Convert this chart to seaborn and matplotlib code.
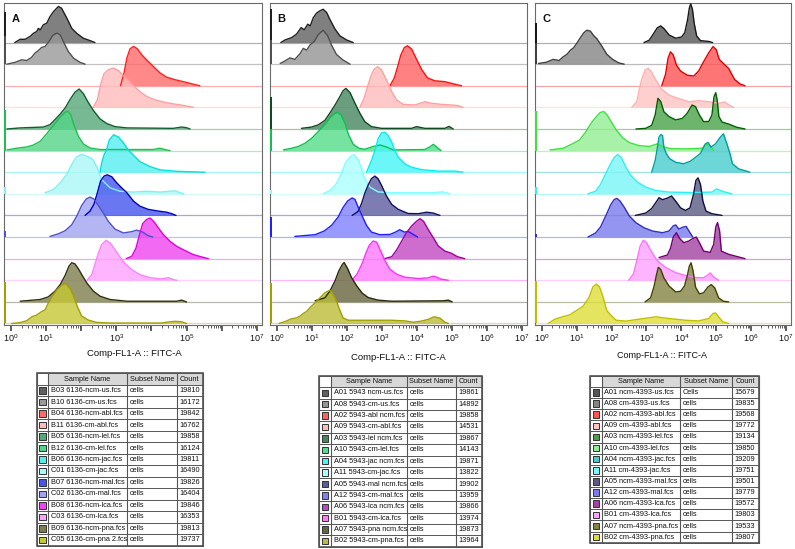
import matplotlib
matplotlib.use("Agg")
import matplotlib.pyplot as plt
import seaborn as sns
import pandas as pd
import numpy as np
from matplotlib.patches import Rectangle

# ---------------- data: each curve = (log10 FITC, height in row units) ----------------
# Panel A
A_B03 = [(0.11,0),(0.26,0.15),(0.40,0.15),(0.54,0.28),(0.64,0.43),(0.73,0.51),(0.78,0.66),(0.83,0.58),(0.92,0.82),(1.02,0.9),(1.11,1.2),(1.21,1.43),(1.35,1.67),(1.44,1.59),(1.59,1.13),(1.73,0.66),(1.87,0.43),(2.06,0.2),(2.25,0.09),(2.39,0)]
A_B10 = [(-0.12,0),(0.11,0.08),(0.30,0.2),(0.45,0.17),(0.59,0.32),(0.68,0.51),(0.78,0.63),(0.87,0.77),(0.97,0.82),(1.06,1.0),(1.19,1.33),(1.30,1.44),(1.40,1.36),(1.49,1.05),(1.63,0.59),(1.78,0.28),(1.97,0.08),(2.11,0)]
A_B04 = [(3.12,0),(3.22,0.6),(3.30,1.28),(3.39,1.71),(3.49,1.82),(3.60,1.71),(3.72,1.44),(3.86,1.2),(4.05,0.9),(4.24,0.6),(4.43,0.4),(4.67,0.28),(4.91,0.19),(5.15,0.09),(5.38,0)]
A_B11 = [(2.34,0),(2.46,0.35),(2.55,1.05),(2.65,1.56),(2.77,1.74),(2.92,1.82),(3.06,1.7),(3.20,1.47),(3.34,1.25),(3.49,1.0),(3.67,0.73),(3.86,0.51),(4.10,0.35),(4.39,0.23),(4.67,0.15),(4.96,0.08),(5.19,0)]
A_B05 = [(-0.12,0),(0.26,0.05),(0.92,0.09),(1.11,0.2),(1.25,0.43),(1.40,0.69),(1.54,0.97),(1.68,1.36),(1.82,1.7),(1.94,1.85),(2.06,1.64),(2.20,1.23),(2.35,0.85),(2.54,0.46),(2.73,0.25),(2.96,0.11),(3.30,0.05),(4.62,0.03),(4.86,0.09),(5.0,0.06),(5.10,0)]
A_B12 = [(-0.12,0.03),(0.16,0.11),(0.45,0.17),(0.64,0.26),(0.83,0.43),(0.97,0.69),(1.11,0.97),(1.25,1.25),(1.40,1.56),(1.54,1.77),(1.61,1.82),(1.70,1.67),(1.79,1.2),(1.92,0.66),(2.06,0.31),(2.25,0.12),(2.54,0.05),(4.05,0.05),(4.24,0.11),(4.43,0.03),(4.53,0)]
A_B06 = [(2.54,0),(2.58,0.42),(2.65,0.8),(2.72,1.03),(2.80,1.49),(2.92,1.73),(3.06,1.63),(3.20,1.36),(3.34,1.03),(3.49,0.78),(3.67,0.49),(3.96,0.26),(4.24,0.11),(4.72,0.04),(5.53,0)]
A_C01 = [(0.97,0.05),(1.21,0.2),(1.40,0.51),(1.59,0.9),(1.73,1.36),(1.87,1.71),(2.01,1.82),(2.17,1.74),(2.33,1.59),(2.46,1.2),(2.58,0.66),(2.82,0.28),(3.10,0.12),(3.49,0.08),(3.86,0.12),(4.24,0.08),(4.67,0.14),(4.86,0.03),(4.91,0)]
A_B07 = [(2.11,0),(2.25,0.2),(2.36,0.51),(2.46,1.05),(2.55,1.59),(2.65,1.82),(2.74,1.88),(2.87,1.79),(3.01,1.51),(3.15,1.28),(3.30,1.05),(3.49,0.66),(3.67,0.43),(3.91,0.28),(4.20,0.2),(4.43,0.15),(4.58,0.08),(4.70,0)]
A_C02 = [(1.11,0.03),(1.35,0.15),(1.54,0.29),(1.73,0.57),(1.87,0.96),(2.01,1.45),(2.14,1.76),(2.25,1.85),(2.36,1.76),(2.49,1.45),(2.63,1.11),(2.77,0.73),(2.96,0.37),(3.20,0.19),(3.44,0.25),(3.58,0.32),(3.75,0.23),(3.91,0.06),(4.04,0)]
A_B08 = [(3.28,0),(3.44,0.11),(3.56,0.49),(3.66,1.11),(3.75,1.62),(3.86,1.81),(3.96,1.88),(4.07,1.71),(4.20,1.42),(4.34,1.11),(4.53,0.8),(4.72,0.57),(4.96,0.37),(5.19,0.19),(5.43,0.08),(5.62,0)]
A_C03 = [(2.17,0),(2.30,0.26),(2.39,0.73),(2.49,1.27),(2.58,1.65),(2.71,1.85),(2.82,1.73),(2.96,1.42),(3.10,1.08),(3.25,0.77),(3.44,0.49),(3.67,0.26),(3.96,0.12),(4.29,0.06),(4.48,0.12),(4.62,0.03),(4.72,0)]
A_B09 = [(0.26,0.03),(0.83,0.11),(1.06,0.23),(1.25,0.49),(1.40,0.8),(1.54,1.22),(1.65,1.65),(1.73,1.81),(1.82,1.76),(1.92,1.53),(2.04,1.19),(2.17,0.85),(2.35,0.49),(2.54,0.26),(2.82,0.11),(3.30,0.03),(4.72,0.03),(4.86,0.08),(5.0,0)]
A_C05 = [(0.02,0),(0.26,0.04),(0.45,0.13),(0.59,0.31),(0.73,0.39),(0.87,0.55),(0.97,0.63),(1.06,0.94),(1.16,1.24),(1.30,1.55),(1.44,1.78),(1.54,1.86),(1.68,1.63),(1.79,1.24),(1.89,0.78),(2.01,0.35),(2.2,0.16),(2.44,0.05),(2.82,0.02),(4.3,0.02),(4.48,0.07),(4.67,0.1),(4.86,0.08),(5.0,0)]
A_SPIKE = [1.43, 1.28, 0, 0, 0, 1.9, 0, 0.3, 0, 0.26, 0, 0, 0, 1.93]

# Panel B
B_A01 = [(0.11,0),(0.23,0.12),(0.42,0.23),(0.56,0.39),(0.69,0.69),(0.78,0.59),(0.88,0.85),(0.95,0.77),(1.04,1.16),(1.13,1.36),(1.23,1.47),(1.32,1.54),(1.42,1.39),(1.51,1.08),(1.66,0.62),(1.80,0.31),(1.99,0.12),(2.18,0)]
B_A08 = [(0.09,0.03),(0.23,0.15),(0.37,0.29),(0.51,0.22),(0.66,0.49),(0.75,0.73),(0.85,0.65),(0.94,0.88),(1.07,1.06),(1.18,1.37),(1.32,1.57),(1.45,1.31),(1.56,0.88),(1.70,0.45),(1.89,0.19),(2.09,0)]
B_A02 = [(3.23,0),(3.35,0.34),(3.45,0.88),(3.54,1.42),(3.64,1.76),(3.73,1.85),(3.85,1.7),(3.99,1.23),(4.13,0.77),(4.30,0.37),(4.51,0.23),(4.80,0.19),(5.04,0.09),(5.28,0)]
B_A09 = [(2.37,0),(2.49,0.42),(2.59,0.96),(2.69,1.47),(2.78,1.77),(2.88,1.88),(2.99,1.73),(3.13,1.27),(3.28,0.73),(3.42,0.34),(3.61,0.14),(3.94,0.11),(4.23,0.26),(4.42,0.19),(4.70,0.14),(4.99,0.11),(5.18,0.08),(5.32,0)]
B_A03 = [(0.70,0.03),(0.99,0.09),(1.18,0.19),(1.37,0.4),(1.51,0.73),(1.66,1.11),(1.80,1.5),(1.89,1.77),(1.97,1.88),(2.09,1.68),(2.23,1.19),(2.37,0.73),(2.51,0.34),(2.70,0.11),(2.99,0.03),(3.85,0.03),(3.99,0.11),(4.23,0.03),(4.80,0.03),(4.92,0.12),(5.04,0)]
B_A10 = [(0.18,0.03),(0.42,0.11),(0.61,0.19),(0.80,0.34),(0.99,0.57),(1.18,0.88),(1.37,1.22),(1.54,1.57),(1.66,1.73),(1.73,1.77),(1.83,1.65),(1.94,1.27),(2.04,0.76),(2.18,0.29),(2.34,0.11),(2.51,0.06),(2.75,0.19),(2.94,0.26),(3.13,0.17),(3.32,0.03),(4.23,0.05),(4.37,0.17),(4.47,0.29),(4.56,0.17),(4.69,0)]
B_A04 = [(2.56,0),(2.66,0.38),(2.72,0.62),(2.80,1.0),(2.89,1.54),(2.99,1.82),(3.09,1.85),(3.18,1.69),(3.28,1.39),(3.37,1.0),(3.47,0.69),(3.66,0.38),(3.85,0.23),(4.13,0.12),(4.61,0.05),(5.09,0.05),(5.32,0)]
B_A11 = [(1.32,0),(1.51,0.15),(1.68,0.43),(1.83,0.9),(1.96,1.44),(2.09,1.71),(2.20,1.82),(2.32,1.59),(2.42,1.16),(2.51,0.69),(2.66,0.31),(2.89,0.09),(3.28,0.05),(4.42,0.05),(4.75,0.09),(4.94,0)]
B_A05 = [(2.15,0),(2.32,0.19),(2.42,0.56),(2.51,1.02),(2.61,1.42),(2.70,1.7),(2.80,1.82),(2.89,1.7),(2.99,1.39),(3.13,0.9),(3.28,0.51),(3.47,0.28),(3.75,0.09),(4.04,0.08),(4.28,0.15),(4.47,0.11),(4.66,0)]
B_A12 = [(0.51,0.03),(1.09,0.11),(1.35,0.28),(1.56,0.54),(1.75,0.93),(1.89,1.37),(2.02,1.67),(2.15,1.81),(2.23,1.74),(2.32,1.39),(2.44,0.96),(2.56,0.54),(2.70,0.23),(2.94,0.11),(3.23,0.12),(3.39,0.23),(3.51,0.34),(3.64,0.23),(3.75,0.26),(3.90,0.12),(4.02,0)]
B_A06 = [(3.07,0),(3.28,0.09),(3.42,0.4),(3.56,0.8),(3.70,1.2),(3.85,1.51),(3.99,1.73),(4.09,1.85),(4.19,1.73),(4.32,1.36),(4.47,0.97),(4.61,0.59),(4.80,0.35),(4.99,0.25),(5.16,0.09),(5.37,0)]
B_B01 = [(2.15,0),(2.30,0.32),(2.44,0.79),(2.54,1.25),(2.64,1.62),(2.75,1.82),(2.85,1.76),(2.94,1.44),(3.09,0.9),(3.23,0.51),(3.42,0.28),(3.66,0.14),(4.04,0.08),(4.32,0.11),(4.47,0.19),(4.56,0.15),(4.69,0.05),(4.90,0)]
B_A07 = [(1.09,0.05),(1.37,0.19),(1.51,0.49),(1.66,0.97),(1.77,1.44),(1.87,1.73),(1.92,1.82),(2.02,1.54),(2.13,1.13),(2.28,0.74),(2.44,0.4),(2.61,0.2),(2.89,0.08),(3.28,0.03),(4.75,0.05),(4.90,0.08),(5.01,0)]
B_B02 = [(0.06,0),(0.23,0.09),(0.42,0.22),(0.56,0.26),(0.66,0.34),(0.75,0.46),(0.85,0.56),(0.94,0.73),(1.09,0.96),(1.23,1.19),(1.37,1.42),(1.51,1.54),(1.61,1.34),(1.70,1.03),(1.77,0.73),(1.83,0.49),(1.89,0.26),(2.04,0.15),(2.51,0.15),(3.28,0.15),(3.66,0.12),(3.90,0.06),(4.13,0.11),(4.32,0.19),(4.49,0.31),(4.66,0.25),(4.80,0.06),(4.90,0)]
B_SPIKE = [1.54, 1.1, 0, 0, 1.5, 1.0, 0, 0.2, 0, 0.93, 0, 0, 0, 1.88]

# Panel C
C_A01 = [(2.93,0),(3.08,0.11),(3.20,0.4),(3.31,0.68),(3.41,0.77),(3.50,0.65),(3.65,0.35),(3.84,0.2),(4.01,0.26),(4.10,0.46),(4.18,1.05),(4.23,1.59),(4.27,1.79),(4.32,1.54),(4.37,0.9),(4.44,0.31),(4.55,0.09),(4.79,0.05),(4.90,0)]
C_A08 = [(-0.10,0.03),(0.13,0.09),(0.32,0.22),(0.49,0.17),(0.61,0.34),(0.72,0.46),(0.82,0.65),(0.91,0.76),(1.01,0.99),(1.10,1.22),(1.20,1.45),(1.29,1.57),(1.39,1.53),(1.48,1.33),(1.58,1.17),(1.72,0.83),(1.86,0.46),(2.03,0.22),(2.20,0.06),(2.36,0)]
C_A02 = [(3.44,0),(3.55,0.54),(3.62,1.27),(3.69,1.57),(3.77,1.42),(3.86,0.96),(3.98,0.68),(4.17,0.49),(4.36,0.45),(4.50,0.69),(4.64,1.11),(4.79,1.53),(4.91,1.81),(5.00,1.68),(5.09,1.22),(5.21,1.03),(5.36,0.8),(5.53,0.29),(5.69,0.08),(5.83,0)]
C_A09 = [(2.58,0),(2.72,0.26),(2.79,0.8),(2.87,1.34),(2.96,1.73),(3.05,1.81),(3.14,1.65),(3.27,1.27),(3.41,0.88),(3.65,0.57),(3.93,0.4),(4.22,0.26),(4.50,0.31),(4.79,0.26),(5.07,0.19),(5.24,0.25),(5.36,0.12),(5.50,0)]
C_A03 = [(2.70,0),(2.98,0.03),(3.15,0.17),(3.25,0.65),(3.33,1.42),(3.41,1.27),(3.50,0.8),(3.65,0.57),(3.84,0.42),(4.03,0.49),(4.17,0.73),(4.31,1.11),(4.41,1.03),(4.52,0.65),(4.64,0.34),(4.79,0.35),(4.88,0.65),(4.94,1.5),(4.99,1.68),(5.03,1.34),(5.08,0.57),(5.17,0.32),(5.36,0.23),(5.59,0.08),(5.83,0)]
C_A10 = [(0.23,0.03),(0.61,0.11),(0.87,0.31),(1.08,0.49),(1.25,0.85),(1.41,1.27),(1.56,1.57),(1.67,1.76),(1.77,1.81),(1.87,1.65),(1.99,1.33),(2.13,0.96),(2.32,0.59),(2.51,0.37),(2.79,0.23),(3.08,0.19),(3.31,0.31),(3.46,0.19),(3.69,0.09),(4.12,0.08),(4.60,0.11),(4.72,0.31),(4.83,0.22),(4.93,0)]
C_A04 = [(3.15,0),(3.25,0.54),(3.30,1.0),(3.36,1.62),(3.41,1.74),(3.46,1.7),(3.50,1.16),(3.57,0.85),(3.67,0.62),(3.84,0.46),(4.07,0.39),(4.26,0.51),(4.41,0.69),(4.55,0.87),(4.69,1.31),(4.77,1.38),(4.85,1.16),(4.98,1.31),(5.12,1.62),(5.21,1.78),(5.31,1.31),(5.40,0.85),(5.47,0.39),(5.64,0.16),(5.97,0)]
C_A11 = [(1.32,0),(1.54,0.12),(1.68,0.43),(1.82,0.9),(1.96,1.36),(2.07,1.67),(2.17,1.82),(2.28,1.67),(2.41,1.23),(2.55,0.85),(2.74,0.54),(2.98,0.31),(3.27,0.15),(3.65,0.08),(4.31,0.06),(4.88,0.08),(5.02,0.23),(5.17,0.12),(5.45,0)]
C_A05 = [(2.68,0),(2.98,0.11),(3.15,0.32),(3.27,0.6),(3.36,0.82),(3.46,0.73),(3.60,0.8),(3.72,0.9),(3.84,0.66),(3.98,0.35),(4.12,0.23),(4.25,0.35),(4.35,0.97),(4.42,1.62),(4.48,1.74),(4.55,1.44),(4.62,0.66),(4.71,0.2),(4.88,0.08),(5.17,0)]
C_A12 = [(1.32,0),(1.54,0.19),(1.68,0.46),(1.82,0.94),(1.97,1.48),(2.07,1.73),(2.15,1.79),(2.24,1.67),(2.37,1.36),(2.51,0.97),(2.70,0.66),(2.93,0.43),(3.17,0.28),(3.46,0.2),(3.65,0.28),(3.77,0.52),(3.84,0.56),(3.93,0.37),(4.05,0.46),(4.14,0.49),(4.22,0.28),(4.33,0)]
C_A06 = [(3.36,0.05),(3.60,0.17),(3.69,0.48),(3.77,1.0),(3.86,1.2),(3.95,0.94),(4.07,0.74),(4.22,0.82),(4.34,0.94),(4.43,1.0),(4.52,0.74),(4.64,0.35),(4.83,0.29),(4.93,0.66),(4.99,1.47),(5.04,1.67),(5.10,1.28),(5.15,0.35),(5.36,0.2),(5.64,0.08),(5.83,0)]
C_B01 = [(2.49,0),(2.63,0.31),(2.73,0.97),(2.82,1.59),(2.91,1.85),(3.00,1.74),(3.13,1.36),(3.31,0.9),(3.55,0.59),(3.84,0.35),(4.12,0.22),(4.41,0.12),(4.64,0.12),(4.77,0.25),(4.83,0.34),(4.93,0.15),(5.07,0)]
C_A07 = [(2.96,0),(3.12,0.19),(3.22,0.73),(3.29,1.27),(3.34,1.6),(3.41,1.5),(3.50,1.11),(3.65,0.73),(3.84,0.46),(3.98,0.49),(4.09,0.73),(4.17,1.19),(4.23,1.65),(4.28,1.81),(4.34,1.42),(4.41,0.68),(4.52,0.37),(4.64,0.42),(4.76,0.68),(4.86,0.8),(4.96,0.65),(5.07,0.19),(5.21,0.03),(5.36,0)]
C_B02 = [(0.18,0),(0.37,0.2),(0.61,0.32),(0.80,0.4),(0.99,0.6),(1.18,0.8),(1.35,1.2),(1.46,1.69),(1.56,1.82),(1.65,1.7),(1.75,1.25),(1.86,0.6),(1.98,0.38),(2.13,0.15),(2.41,0.11),(2.79,0.2),(3.27,0.31),(3.65,0.23),(4.12,0.15),(4.50,0.12),(4.79,0.23),(4.91,0.46),(4.98,0.49),(5.07,0.31),(5.19,0.08),(5.36,0)]
C_SPIKE = [0.92, 1.0, 0, 0, 0, 1.85, 0, 0.3, 0, 0.12, 0, 0, 0, 1.95]

A_ROWS = [A_B03, A_B10, A_B04, A_B11, A_B05, A_B12, A_B06, A_C01, A_B07, A_C02, A_B08, A_C03, A_B09, A_C05]
B_ROWS = [B_A01, B_A08, B_A02, B_A09, B_A03, B_A10, B_A04, B_A11, B_A05, B_A12, B_A06, B_B01, B_A07, B_B02]
C_ROWS = [C_A01, C_A08, C_A02, C_A09, C_A03, C_A10, C_A04, C_A11, C_A05, C_A12, C_A06, C_B01, C_A07, C_B02]

# table contents
A_SAMPLES = ["B03 6136-ncm-us.fcs", "B10 6136-cm-us.fcs", "B04 6136-ncm-abl.fcs", "B11 6136-cm-abl.fcs",
             "B05 6136-ncm-lel.fcs", "B12 6136-cm-lel.fcs", "B06 6136-ncm-jac.fcs", "C01 6136-cm-jac.fcs",
             "B07 6136-ncm-mal.fcs", "C02 6136-cm-mal.fcs", "B08 6136-ncm-lca.fcs", "C03 6136-cm-lca.fcs",
             "B09 6136-ncm-pna.fcs", "C05 6136-cm-pna 2.fcs"]
A_SUBSETS = ["cells"] * 14
A_COUNTS = [19810, 16172, 19842, 16762, 19858, 16124, 19811, 16490, 19826, 16404, 19846, 16353, 19813, 19737]
B_SAMPLES = ["A01 5943 ncm-us.fcs", "A08 5943-cm-us.fcs", "A02 5943-abl ncm.fcs", "A09 5943-cm-abl.fcs",
             "A03 5943-lel ncm.fcs", "A10 5943-cm-lel.fcs", "A04 5943-jac ncm.fcs", "A11 5943-cm-jac.fcs",
             "A05 5943-mal ncm.fcs", "A12 5943-cm-mal.fcs", "A06 5943-lca ncm.fcs", "B01 5943-cm-lca.fcs",
             "A07 5943-pna ncm.fcs", "B02 5943-cm-pna.fcs"]
B_SUBSETS = ["cells"] * 14
B_COUNTS = [19861, 14892, 19858, 14531, 19867, 14143, 19871, 13822, 19902, 13959, 19866, 13974, 19873, 13964]
C_SAMPLES = ["A01 ncm-4393-us.fcs", "A08 cm-4393-us.fcs", "A02 ncm-4393-abl.fcs", "A09 cm-4393-abl.fcs",
             "A03 ncm-4393-lel.fcs", "A10 cm-4393-lel.fcs", "A04 ncm-4393-jac.fcs", "A11 cm-4393-jac.fcs",
             "A05 ncm-4393-mal.fcs", "A12 cm-4393-mal.fcs", "A06 ncm-4393-lca.fcs", "B01 cm-4393-lca.fcs",
             "A07 ncm-4393-pna.fcs", "B02 cm-4393-pna.fcs"]
C_SUBSETS = ["Cells"] + ["cells"] * 13
C_COUNTS = [15679, 19835, 19568, 19772, 19134, 19850, 19209, 19751, 19501, 19779, 19572, 19803, 19533, 19807]
HEADERS = ["Sample Name", "Subset Name", "Count"]
XLABEL = "Comp-FL1-A :: FITC-A"

# ---------------- styles ----------------
A_LINE = ["#202020", "#505050", "#ff2020", "#ffa0a0", "#106030", "#20c050", "#00e0e0",
          "#80f0f0", "#0000c0", "#5050d0", "#e000e0", "#ff80ff", "#303010", "#a0a000"]
A_FILL = ["#606060", "#999999", "#ff6a6a", "#ffbcbc", "#55a878", "#55d488", "#55eeee",
          "#aaf8f8", "#4555ee", "#a0a4f0", "#ee45ee", "#ffa2ff", "#7e7e4c", "#c6c636"]
B_LINE = ["#202020", "#505050", "#ff1010", "#ffa0a0", "#104a20", "#10c050", "#00f0f0",
          "#80ffff", "#101060", "#2020ff", "#a000a0", "#ff30ff", "#282808", "#a0a000"]
B_FILL = ["#606060", "#949494", "#ff6262", "#ffbcbc", "#46865f", "#55dc88", "#46f6f6",
          "#aaffff", "#5c5ca0", "#8080ff", "#c248c2", "#ff7aff", "#66663e", "#bcbc38"]
C_LINE = ["#181818", "#404040", "#e00000", "#ffb0b0", "#006000", "#40e040", "#00a0a0",
          "#30f0f0", "#101040", "#3030c0", "#700070", "#ff70ff", "#404000", "#c0c000"]
C_FILL = ["#555555", "#858585", "#ff5252", "#ffc4c4", "#48a248", "#92ee92", "#48cccc",
          "#7af6f6", "#5a5a84", "#7a7aee", "#a242a2", "#ffa2ff", "#848442", "#dede3a"]

sns.set_theme(style="white")
plt.rcParams["font.family"] = ["Liberation Sans", "DejaVu Sans"]
plt.rcParams["mathtext.fontset"] = "custom"
plt.rcParams["mathtext.rm"] = "Liberation Sans"

W, H = 795, 549
fig = plt.figure(figsize=(W / 100, H / 100), dpi=100)
fig.patch.set_facecolor("white")

XMIN, XMAX = -0.2, 7.15
YMIN, YMAX = -0.07, 14.83
NROW = 14


def px_axes(l, t, r, b):
    return fig.add_axes([l / W, 1 - b / H, (r - l) / W, (b - t) / H])


PANELS = [
    dict(letter="A", box=(4, 3, 262, 325), rows=A_ROWS, spikes=A_SPIKE, lines=A_LINE, fills=A_FILL,
         labels=[0, 1, 3, 5, 7], xl=(134, 354), xlfs=6.8),
    dict(letter="B", box=(270, 3, 527, 325), rows=B_ROWS, spikes=B_SPIKE, lines=B_LINE, fills=B_FILL,
         labels=list(range(8)), xl=(398, 358), xlfs=6.8),
    dict(letter="C", box=(535, 3, 791, 325), rows=C_ROWS, spikes=C_SPIKE, lines=C_LINE, fills=C_FILL,
         labels=list(range(8)), xl=(662, 355), xlfs=6.5),
]

for p in PANELS:
    ax = px_axes(*p["box"])
    ax.set_facecolor("white")
    for i in range(NROW):
        base = NROW - 1 - i
        pts = p["rows"][i]
        df = pd.DataFrame({"d": [q[0] for q in pts], "y": [base + q[1] for q in pts]})
        lc, fc = p["lines"][i], p["fills"][i]
        ax.plot([XMIN, XMAX], [base, base], color=lc, alpha=0.35, lw=0.9, zorder=1)
        ax.fill_between(df["d"], base, df["y"], color=fc, alpha=0.8, lw=0, zorder=2 + i * 0.01)
        sns.lineplot(data=df, x="d", y="y", sort=False, estimator=None, color=lc, lw=1.0, ax=ax,
                     zorder=3 + i * 0.01)
        s = p["spikes"][i]
        if s > 0:
            ax.fill_between([XMIN, XMIN + 0.06], base, base + s, color=lc, lw=0, zorder=4)
    ax.set_xlim(XMIN, XMAX)
    ax.set_ylim(YMIN, YMAX)
    ax.set_ylabel("")
    ax.set_xlabel("")
    ax.set_yticks([])
    ax.set_xticks(range(8))
    ax.set_xticklabels([r"$\mathregular{10^{%d}}$" % n if n in p["labels"] else "" for n in range(8)],
                       fontsize=6.5, color="#111111")
    ax.set_xticks([n + np.log10(k) for n in range(7) for k in range(2, 10)], minor=True)
    ax.tick_params(axis="x", which="major", length=4, width=1.1, direction="out", color="#333333",
                   pad=1.5, bottom=True)
    ax.tick_params(axis="x", which="minor", length=2.2, width=0.6, direction="out", color="#444444",
                   bottom=True)
    for sp in ax.spines.values():
        sp.set_color("#6a6a6a")
        sp.set_linewidth(0.8)
        sp.set_visible(True)
    ax.text(0.03, 0.965, p["letter"], transform=ax.transAxes, fontsize=8, fontweight="bold",
            ha="left", va="top", color="#111111")
    fig.text(p["xl"][0] / W, 1 - p["xl"][1] / H, XLABEL, fontsize=p["xlfs"], ha="center", va="center",
             color="#111111")

# ---------------- tables ----------------
tab = fig.add_axes([0, 0, 1, 1])
tab.set_xlim(0, W)
tab.set_ylim(H, 0)
tab.axis("off")
tab.patch.set_alpha(0)

TABLES = [
    dict(cols=[36.7, 48.3, 126.7, 176.7, 202.7], top=373.3, bottom=545.7,
         samples=A_SAMPLES, subsets=A_SUBSETS, counts=A_COUNTS, fills=A_FILL, lines=A_LINE),
    dict(cols=[319.3, 331.0, 406.7, 456.0, 481.7], top=375.7, bottom=546.7,
         samples=B_SAMPLES, subsets=B_SUBSETS, counts=B_COUNTS, fills=B_FILL, lines=B_LINE),
    dict(cols=[590.0, 601.7, 680.0, 731.7, 759.3], top=375.7, bottom=542.7,
         samples=C_SAMPLES, subsets=C_SUBSETS, counts=C_COUNTS, fills=C_FILL, lines=C_LINE),
]
TFS = 5.3
for t in TABLES:
    cols, top, bottom = t["cols"], t["top"], t["bottom"]
    n = NROW + 1
    rh = (bottom - top) / n
    for j in range(1, 4):
        tab.add_patch(Rectangle((cols[j], top), cols[j + 1] - cols[j], rh, fc="#d8d8d8", ec="none"))
        tab.text((cols[j] + cols[j + 1]) / 2, top + rh / 2, HEADERS[j - 1], fontsize=TFS,
                 ha="center", va="center", color="#111111")
    for k in range(n + 1):
        y = top + k * rh
        tab.plot([cols[0], cols[-1]], [y, y], color="#555555", lw=0.7)
    for x in cols:
        tab.plot([x, x], [top, bottom], color="#555555", lw=0.8)
    tab.add_patch(Rectangle((cols[0], top), cols[-1] - cols[0], bottom - top, fc="none",
                            ec="#444444", lw=1.1))
    for i in range(NROW):
        yc = top + (i + 1.5) * rh
        sw = 6.5
        xc = (cols[0] + cols[1]) / 2
        tab.add_patch(Rectangle((xc - sw / 2, yc - sw / 2), sw, sw, fc=t["fills"][i],
                                ec="#333333", lw=0.7))
        tab.text(cols[1] + 2.8, yc, t["samples"][i], fontsize=TFS, ha="left", va="center", color="#111111")
        tab.text(cols[2] + 2.6, yc, t["subsets"][i], fontsize=TFS, ha="left", va="center", color="#111111")
        tab.text(cols[3] + 2.8, yc, str(t["counts"][i]), fontsize=TFS, ha="left", va="center",
                 color="#111111")

fig.savefig("out.png", dpi=100, facecolor="white")
